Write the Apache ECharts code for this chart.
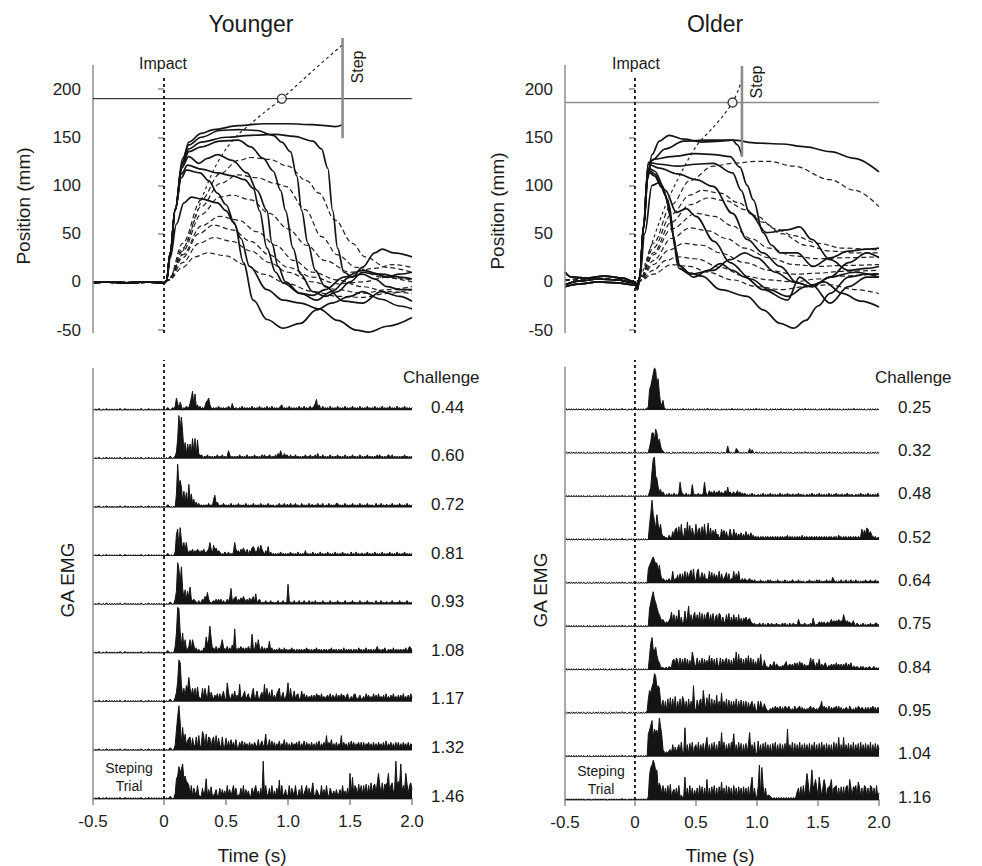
<!DOCTYPE html>
<html><head><meta charset="utf-8">
<script src="https://cdn.jsdelivr.net/npm/echarts@6/dist/echarts.min.js"></script>
<style>html,body{margin:0;padding:0;background:#fff}#c{width:982px;height:866px}</style>
</head><body><div id="c"></div>
<script>
// ---------- axes / labels ----------
const X_MIN = -0.573, X_MAX = 2.0;
const xTickValues = [X_MIN, 0, 0.5, 1.0, 1.5, 2.0];
const xTickLabels = ['-0.5', '0', '0.5', '1.0', '1.5', '2.0'];
const posTickValues = [-50, 0, 50, 100, 150, 200];
const youngerChallenge = ['0.44','0.60','0.72','0.81','0.93','1.08','1.17','1.32','1.46'];
const olderChallenge = ['0.25','0.32','0.48','0.52','0.64','0.75','0.84','0.95','1.04','1.16'];

// ---------- position traces (t [s], mm) ----------
const preYS = [[-0.573,-1],[-0.45,0],[-0.3,-1],[-0.15,0],[0,-1],[0.02,1]];
const posYS1 = [[0.05,30],[0.09,75],[0.15,125],[0.2,145],[0.3,154],[0.4,158],[0.6,162],[0.8,164],[1.0,164],[1.2,163],[1.3,162],[1.38,161],[1.44,163]];
const posYS2 = [[0.05,30],[0.09,76],[0.15,128],[0.2,142],[0.3,150],[0.45,157],[0.6,158],[0.75,157],[0.88,152],[0.95,145],[1.02,135],[1.07,110],[1.11,74],[1.16,40],[1.22,12],[1.3,-5],[1.45,-20],[1.6,-22],[1.75,-10],[1.9,-15],[2.0,-20]];
const posYS3 = [[0.05,30],[0.09,74],[0.15,124],[0.2,138],[0.3,145],[0.5,150],[0.7,152],[0.9,153],[1.05,151],[1.2,146],[1.27,138],[1.32,118],[1.36,74],[1.4,35],[1.45,10],[1.52,5],[1.6,15],[1.7,30],[1.76,34],[1.85,30],[2.0,26]];
const posYS4 = [[0.05,30],[0.09,75],[0.15,122],[0.2,135],[0.3,140],[0.45,146],[0.6,147],[0.7,140],[0.8,128],[0.88,115],[0.94,95],[0.98,74],[1.04,35],[1.1,8],[1.2,-10],[1.3,-15],[1.4,-10],[1.5,0],[1.6,10],[1.7,8],[1.8,5],[1.9,8],[2.0,10]];
const posYS5 = [[0.05,30],[0.09,74],[0.14,118],[0.2,130],[0.28,123],[0.35,128],[0.43,132],[0.55,126],[0.67,113],[0.75,95],[0.83,74],[0.87,40],[0.92,16],[0.98,0],[1.1,-12],[1.23,-19],[1.35,-10],[1.5,5],[1.6,8],[1.7,3],[1.8,-5],[1.9,-8],[2.0,-8]];
const posYS6 = [[0.05,30],[0.09,75],[0.14,112],[0.19,121],[0.3,117],[0.43,113],[0.55,110],[0.65,106],[0.72,97],[0.77,74],[0.83,35],[0.9,10],[0.96,-1],[1.1,-12],[1.2,-14],[1.3,-8],[1.45,5],[1.6,12],[1.75,8],[1.9,5],[2.0,3]];
const posYS7 = [[0.05,30],[0.09,75],[0.14,108],[0.18,116],[0.29,113],[0.36,105],[0.43,92],[0.5,80],[0.57,60],[0.64,20],[0.72,-19],[0.83,-39],[0.96,-48],[1.1,-43],[1.23,-29],[1.35,-22],[1.5,-15],[1.6,-10],[1.75,-18],[1.9,-25],[2.0,-28]];
const posYS8 = [[0.05,25],[0.1,60],[0.16,82],[0.22,88],[0.3,86],[0.43,82],[0.5,74],[0.56,62],[0.62,45],[0.69,16],[0.83,-8],[0.96,-19],[1.1,-22],[1.25,-28],[1.4,-40],[1.55,-50],[1.65,-52],[1.8,-46],[2.0,-37]];

const preYD = [[-0.573,0],[-0.3,-1],[0,0],[0.04,2]];
const posYD1 = [[0.15,40],[0.3,85],[0.45,112],[0.6,126],[0.7,129],[0.85,127],[1.0,120],[1.15,105],[1.25,92],[1.38,64],[1.52,40],[1.62,26],[1.8,15],[2.0,10]];
const posYD2 = [[0.15,35],[0.3,78],[0.45,102],[0.6,111],[0.75,108],[0.9,102],[0.98,99],[1.14,75],[1.27,47],[1.4,28],[1.55,15],[1.75,5],[2.0,0]];
const posYD3 = [[0.15,32],[0.3,70],[0.45,88],[0.55,90],[0.7,85],[0.85,71],[1.0,55],[1.15,38],[1.3,22],[1.5,10],[1.7,14],[1.85,18],[2.0,15]];
const posYD4 = [[0.15,28],[0.3,58],[0.45,68],[0.6,64],[0.75,52],[0.9,38],[1.05,22],[1.2,10],[1.4,2],[1.6,-5],[1.8,-10],[2.0,-12]];
const posYD5 = [[0.15,25],[0.28,50],[0.4,59],[0.55,54],[0.7,42],[0.85,28],[1.0,15],[1.2,5],[1.4,-2],[1.6,0],[1.8,5],[2.0,2]];
const posYD6 = [[0.15,20],[0.28,40],[0.4,46],[0.55,42],[0.7,32],[0.85,20],[1.0,10],[1.2,0],[1.4,-8],[1.6,-12],[1.8,-8],[2.0,-5]];
const posYD7 = [[0.15,15],[0.25,26],[0.35,30],[0.5,27],[0.65,18],[0.8,8],[1.0,-2],[1.2,-10],[1.4,-15],[1.6,-16],[1.8,-12],[2.0,-8]];
const posYDot = [[0.05,4],[0.18,40],[0.31,88],[0.4,116],[0.5,138],[0.6,153],[0.7,164],[0.8,175],[0.95,190],[1.2,219],[1.44,246]];

const preOA = [[-0.573,10],[-0.52,5],[-0.4,4],[-0.25,6],[-0.1,4],[0,0],[0.02,-4]];
const preOB = [[-0.573,-3],[-0.45,1],[-0.3,3],[-0.15,2],[0,-1],[0.02,-6]];
const preOC = [[-0.573,-5],[-0.45,-2],[-0.3,0],[-0.15,-1],[0,-3],[0.02,-8]];
const posOS1 = [[0.04,5],[0.07,55],[0.1,105],[0.14,132],[0.2,146],[0.28,152],[0.4,148],[0.55,145],[0.7,146],[0.8,147],[0.84,142],[0.877,130]];
const posOS2 = [[0.04,5],[0.07,55],[0.1,108],[0.14,126],[0.25,138],[0.4,146],[0.6,147],[0.8,147],[1.0,144],[1.2,143],[1.4,140],[1.6,135],[1.8,128],[2.0,114]];
const posOS3 = [[0.04,5],[0.07,58],[0.11,122],[0.15,127],[0.3,130],[0.5,133],[0.65,132],[0.78,130],[0.86,119],[0.92,100],[0.97,85],[1.05,51],[1.12,38],[1.19,30],[1.33,30],[1.46,16],[1.6,25],[1.75,32],[1.9,34],[2.0,35]];
const posOS4 = [[0.04,5],[0.07,58],[0.11,124],[0.2,122],[0.35,120],[0.5,122],[0.64,123],[0.8,113],[0.87,95],[0.94,71],[1.08,51],[1.25,54],[1.35,57],[1.45,44],[1.6,23],[1.75,12],[1.9,14],[2.0,16]];
const posOS5 = [[0.04,5],[0.07,57],[0.11,122],[0.2,118],[0.35,112],[0.5,106],[0.64,99],[0.8,71],[0.92,44],[1.05,30],[1.19,16],[1.33,-1],[1.45,-5],[1.6,5],[1.75,20],[1.9,30],[2.0,25]];
const posOS6 = [[0.04,5],[0.07,56],[0.11,118],[0.16,115],[0.25,95],[0.34,72],[0.42,76],[0.5,68],[0.65,42],[0.78,20],[0.95,3],[1.1,-8],[1.25,-15],[1.4,-5],[1.55,0],[1.7,-12],[1.85,-20],[2.0,-26]];
const posOS7 = [[0.04,5],[0.07,56],[0.11,116],[0.16,112],[0.22,100],[0.27,85],[0.31,50],[0.35,18],[0.45,9],[0.55,6],[0.7,-8],[0.92,-15],[1.05,-29],[1.19,-43],[1.3,-48],[1.4,-40],[1.5,-25],[1.6,-12],[1.75,5],[1.9,8],[2.0,8]];
const posOS8 = [[0.04,5],[0.07,55],[0.11,114],[0.16,110],[0.22,98],[0.28,80],[0.32,45],[0.36,14],[0.45,8],[0.64,12],[0.78,23],[0.9,30],[1.0,25],[1.15,10],[1.3,0],[1.45,-5],[1.6,5],[1.8,10],[2.0,5]];
const posOS9 = [[0.04,4],[0.08,50],[0.14,100],[0.2,103],[0.25,90],[0.29,68],[0.33,35],[0.37,16],[0.48,5],[0.6,12],[0.7,19],[0.8,12],[0.9,5],[1.05,-8],[1.25,-19],[1.35,5],[1.45,-3],[1.6,-22],[1.75,-5],[1.9,5],[2.0,5]];

const preOD = [[-0.573,2],[-0.3,3],[0,1],[0.04,1]];
const posOD1 = [[0.15,40],[0.3,80],[0.45,105],[0.64,120],[0.8,123],[1.0,125],[1.1,125],[1.3,120],[1.6,106],[1.8,95],[2.0,78]];
const posOD2 = [[0.15,35],[0.3,70],[0.45,90],[0.55,95],[0.7,92],[0.85,82],[1.0,68],[1.15,55],[1.3,48],[1.5,40],[1.7,35],[2.0,33]];
const posOD3 = [[0.15,30],[0.3,62],[0.45,80],[0.6,87],[0.75,84],[0.9,75],[1.05,62],[1.2,50],[1.4,38],[1.6,32],[1.8,30],[2.0,30]];
const posOD4 = [[0.15,28],[0.3,55],[0.5,71],[0.65,68],[0.8,58],[0.95,45],[1.1,35],[1.3,27],[1.5,24],[1.7,25],[2.0,26]];
const posOD5 = [[0.15,22],[0.3,45],[0.45,56],[0.6,53],[0.75,45],[0.9,35],[1.1,25],[1.3,18],[1.5,16],[1.7,17],[2.0,18]];
const posOD6 = [[0.15,18],[0.28,33],[0.4,40],[0.55,38],[0.7,30],[0.9,20],[1.1,12],[1.3,8],[1.5,9],[1.7,11],[2.0,12]];
const posOD7 = [[0.15,12],[0.25,22],[0.35,26],[0.5,24],[0.7,15],[0.9,6],[1.1,2],[1.3,0],[1.5,3],[1.7,6],[2.0,9]];
const posOD8 = [[0.15,8],[0.3,18],[0.45,16],[0.6,10],[0.8,2],[1.0,-5],[1.2,-8],[1.4,-5],[1.6,-3],[1.8,-8],[2.0,-12]];
const posODot = [[0.05,5],[0.15,44],[0.26,82],[0.39,116],[0.51,142],[0.64,160],[0.72,172],[0.8,186],[0.85,200],[0.88,212]];

// reference marks (t, mm)
const youngerTarget = 190, olderTarget = 186;
const youngerStep = [[1.44,149],[1.44,253]], olderStep = [[0.877,130],[0.877,224]];
const youngerCircle = [0.95,190], olderCircle = [0.80,186];

// ---------- EMG (one char per 0.01 s, base-36 amplitude, 36 = one trace spacing) ----------
const emgPreY = "1010110 0101101010 1010110011 0101010101 0110010110 1010101010";
const emgPreO = "0101010 1010101010 0101001010 1010101001 0101010101 1010010101";
const emgY044 = "1012101213 9516302132 259e4c2413 1213679421 2121312121 2132152121 1213121212 1312121312 1213121312 1212341212 1312121213 1213121231 2358142131 2121312121 3121213121 2131212131 2121312121 3121213121 2131212131 2121312121 2";
const emgY060 = "1010121012 5fwmvk6c3b 6b4f5f3e42 3212131212 1213121312 1263121212 1312121312 1213121213 1312132121 3142631423 2131213121 2121312131 2131412131 2121312121 3121213121 2131212131 2121312121 2131312121 2321312121 2121312121 2";
const emgY072 = "1012101010 awhkf5c4b3 h5a3624131 2121213121 6934212131 2121312121 3121213121 2131212131 2121312121 1213121312 2131213121 1312121312 2121312131 1213121213 3121213121 2131212131 2121312121 1312131212 2121312121 3121213121 2";
const emgY081 = "1012101013 gk6lc5a4a3 3435243542 4353245a52 8463431213 2131213a53 4253642514 3675247385 3142713121 2121312121 2131212131 2121412121 3121213121 2131212131 2121312121 1312131212 2121312121 3121213121 2131212131 2121312121 2";
const emgY093 = "1010121014 avqgsc5b4a 5d43432131 2436494212 3242424131 2425c34562 4353642425 3462813421 2131213121 2131213121 f312131213 1213121312 2131212131 2121312121 3121213121 2131212131 2121312121 1312131212 2121312121 3121213121 2";
const emgY108 = "1012101015 fyxg5f4a33 5a3a624131 2143c6akb3 4252436a43 3524263i42 4353424253 3e4283a425 2424392413 2314231423 1324231313 2313242313 1324132313 2313241323 1323141323 2313231423 1324132313 2352313242 1323141323 2313241354 2";
const emgY117 = "1010121013 7fvtd5a4c9 ia5a4a3b43 2a3a52c274 2536262582 2e72363825 2d33582462 26a2483257 2d3a372925 268a247236 e2a3482562 2836252435 2526452624 2452625426 2526452462 2425632352 2426352426 2526242526 2425262425 2526242526 3";
const emgY132 = "1010121014 fpxl5h6c47 9a2943a2b3 3eb2c3a928 a2b3942a23 9272836282 2637263526 2526428257 25c3482736 2537254826 2526354627 2537263526 2526372536 2b36382526 253b263526 2736254626 2625462526 2526352627 2536252626 2526352625 4";
const emgY146 = "1010121014 fhokmqfhdc a3a2853a32 2836f27392 3472382736 2a3726a382 3382a27362 2847a36282 s3a3382a26 283e2a3372 3a2853a327 2a347a2836 c327532a27 2a32853627 3472a36282 j4g3a83b4a 3a4b3a4c4a b4cja4c4ba cj5ac48sad bq5a6jb4ac 7";

const emgO025 = "0101010101 13hkpuzxmq e648210101 0101010101 1010101010 0101010101 1010101010 0101010101 1010101010 0101010101 1010101010 0101010101 1010101010 0101010101 1010101010 0101010101 1010101010 0101010101 1010101010 0101010101 0";
const emgO032 = "0101010101 015ahhbkh9 c632101010 0101010101 1010101010 0101010101 1010101010 0101016201 0104310101 0101403101 1010101010 0101010101 1010101010 0101010101 1010101010 0101010101 1010101010 0101010101 1010101010 0101010101 0";
const emgO048 = "0101010101 0148lvxhf8 4624212131 2131213c52 2131212a31 2131213c41 2534252435 2423528342 3423524232 3121213121 1212131212 1312121213 1212131212 2121312121 1212131212 1312121213 1212131212 2121312121 1212131212 1312121213 1";
const emgO052 = "0101010101 01dmxlg9ld 8d53322142 2739a4b2d3 3a2f4c2a53 d39a2b4d35 e3a2849352 2948372394 2936253625 2735263423 2313231323 1323132313 2313241323 1313231413 2313231323 1323132313 2313231423 1323132313 2313239485 a957432312 2";
const emgO064 = "0101010101 0cfhkmjgha f834323242 3a24372828 3a2948b3c2 3ac2593824 2a3928472a 2834692824 3a284a3242 4323423132 1213121213 1312121312 1213121213 2121312121 1213121213 1312121312 2153121213 1213121312 1312121213 1213121312 1";
const emgO075 = "0101010101 01fkptnkgc a756434357 c3a294e382 4d29h3a39c 3a4c2b3a4b c3a4b28a3b a2843a4b28 3a382a2737 6856743231 2132131213 2131213121 2313121312 3121631213 2121317312 2434242342 4635454645 4a63534235 2132121312 1213121331 2";
const emgO084 = "0101010101 01cmrhgjc8 6322122132 3894a82a39 4a39382fa3 4a383a3948 3c4a392a43 a3948a3928 3a4f3d4a39 3a4c3a2937 2a3d428432 2534725423 2435724525 2636274625 2435a49526 3925346324 2535263525 2536253623 3232132312 2132123121 2";
const emgO095 = "0101010101 2cjhmpxvln la4b3a2c3d 4c3e2a4c2e b3a2c3a3n4 3b4ac2ja3d 4g2c3b4f3a 4h3a4c2b3a 4a3c2a4b3a 3a2948a382 2a3a628532 2435264526 2526536424 2634562534 2435625434 256a264526 2535463625 2435426424 2526535425 2525463525 4";
const emgO104 = "0101010101 0jmqugnkmh wpi6434356 3a2847a3c3 3o3a2b4c28 a3c3a4b3ag 3a3b4c3a2d 4k3c3a4b3c aj3a3c4b2a 3b3ak4a3c2 3d3a2b4c3a 3a2b4c3a2b 3a3b2n3a3c 2b3a4c2a3b 3a3b2a4c3a 2b3c4a2b3a 3a2c4b3g2a 3g2a4b3a2c 3a3b2c3a4b 3a3c2a3b4a 6";
const emgO116 = "0101010101 03lrtxuopa eb5c4a3c3d 2793a3c242 3j3a2c3a28 3a2c4b2a3h 2a3b4c2a2b 4f3a2c2b4a 2c3a2b4a2b 3a2b2cj3a2 3bt3rc3a24 4321212121 2121212121 2137a3b2c3 cme3apbcha 3jb3ahc2ab ch3abc3a2b 3b2bc3ha3b ac3fb3a2cb 3a2cb3a2c2 6";

const emgYounger = [emgY044, emgY060, emgY072, emgY081, emgY093, emgY108, emgY117, emgY132, emgY146];
const emgOlder = [emgO025, emgO032, emgO048, emgO052, emgO064, emgO075, emgO084, emgO095, emgO104, emgO116];

// ---------- build ----------
const FONT = '"Liberation Sans", Arial, Helvetica, sans-serif';
const GRAY = '#8c8c8c', INK = '#141414';
const chart = echarts.init(document.getElementById('c'), null, {renderer: 'svg', width: 982, height: 866});

const grids = [
  {left: 93, top: 36, width: 319, height: 297},
  {left: 565, top: 36, width: 314, height: 297},
  {left: 93, top: 360, width: 319, height: 439},
  {left: 565, top: 360, width: 314, height: 440}
];
const emgMaxY = [9.033, 10.154];

const xAxes = grids.map((g, i) => ({
  type: 'value', gridIndex: i, min: X_MIN, max: X_MAX, show: i >= 2,
  axisLine: {lineStyle: {color: GRAY, width: 1.5}},
  axisTick: {customValues: xTickValues, length: 6, lineStyle: {color: GRAY, width: 1.5}},
  axisLabel: {customValues: xTickValues, fontSize: 17, color: '#1e1e1e', margin: 14, fontFamily: FONT,
    formatter: v => { const k = xTickValues.findIndex(q => Math.abs(q - v) < 1e-6); return k >= 0 ? xTickLabels[k] : ''; }},
  splitLine: {show: false}
}));
const yAxes = grids.map((g, i) => i < 2 ? ({
  type: 'value', gridIndex: i, min: -53, max: 255,
  axisLine: {show: false},
  axisTick: {show: true, customValues: posTickValues, length: 6, lineStyle: {color: GRAY, width: 1.5}},
  axisLabel: {customValues: posTickValues, fontSize: 17, color: '#1e1e1e', margin: 12, fontFamily: FONT},
  splitLine: {show: false}
}) : ({
  type: 'value', gridIndex: i, min: 0, max: emgMaxY[i - 2], show: false, splitLine: {show: false}
}));

const series = [];
function curve(data, gi, dashed) {
  series.push({type: 'line', xAxisIndex: gi, yAxisIndex: gi, data, smooth: 0.35, smoothMonotone: 'x',
    showSymbol: false, symbol: 'none', silent: true, animation: false, z: dashed ? 2 : 3,
    lineStyle: dashed ? {color: '#222', width: 1.2, type: [5, 3]} : {color: INK, width: 1.7}});
}
function seg(data, gi, color, width, type, z) {
  series.push({type: 'line', xAxisIndex: gi, yAxisIndex: gi, data, showSymbol: false, symbol: 'none',
    silent: true, animation: false, clip: false, z: z || 4, lineStyle: {color, width, type: type || 'solid'}});
}
function decode(s) { return s.replace(/\s+/g, '').split('').map(c => parseInt(c, 36)); }
function emg(post, pre, offset, gi) {
  const data = [];
  decode(pre).forEach((v, j) => data.push([+(-0.57 + j * 0.01).toFixed(2), offset + v / 36]));
  decode(post).forEach((v, k) => { const t = k * 0.01; if (t <= X_MAX + 1e-6) data.push([+t.toFixed(2), offset + v / 36]); });
  series.push({type: 'line', xAxisIndex: gi, yAxisIndex: gi, data, showSymbol: false, symbol: 'none',
    silent: true, animation: false, z: 3, lineStyle: {color: INK, width: 1},
    areaStyle: {origin: offset, color: INK, opacity: 1}});
}

// Younger position
[posYD1, posYD2, posYD3, posYD4, posYD5, posYD6, posYD7].forEach(d => curve(preYD.concat(d), 0, true));
[posYS1, posYS2, posYS3, posYS4, posYS5, posYS6, posYS7, posYS8].forEach(d => curve(preYS.concat(d), 0, false));
series.push({type: 'line', xAxisIndex: 0, yAxisIndex: 0, data: posYDot, smooth: 0.3, showSymbol: false, symbol: 'none',
  silent: true, animation: false, z: 3, lineStyle: {color: '#222', width: 1.2, type: [3, 3]}});
// Older position
[posOD1, posOD2, posOD3, posOD4, posOD5, posOD6, posOD7, posOD8].forEach(d => curve(preOD.concat(d), 1, true));
[[posOS1, preOA], [posOS2, preOB], [posOS3, preOC], [posOS4, preOA], [posOS5, preOB], [posOS6, preOC], [posOS7, preOA], [posOS8, preOB], [posOS9, preOC]]
  .forEach(p => curve(p[1].concat(p[0]), 1, false));
series.push({type: 'line', xAxisIndex: 1, yAxisIndex: 1, data: posODot, smooth: 0.3, showSymbol: false, symbol: 'none',
  silent: true, animation: false, z: 3, lineStyle: {color: '#222', width: 1.2, type: [3, 3]}});

// reference lines
seg([[X_MIN, -53], [X_MIN, 225]], 0, GRAY, 1.5);
seg([[X_MIN, -53], [X_MIN, 225]], 1, GRAY, 1.5);
seg([[X_MIN, youngerTarget], [X_MAX, youngerTarget]], 0, '#111', 1);
seg([[X_MIN, olderTarget], [X_MAX, olderTarget]], 1, GRAY, 1.6);
seg(youngerStep, 0, GRAY, 2.6);
seg(olderStep, 1, GRAY, 2.6);
seg([[0, -53], [0, 214]], 0, '#111', 1.8, [3, 3]);
seg([[0, -53], [0, 213]], 1, '#111', 1.8, [3, 3]);
series.push({type: 'scatter', xAxisIndex: 0, yAxisIndex: 0, data: [youngerCircle], symbol: 'circle', symbolSize: 9, z: 6,
  silent: true, animation: false, itemStyle: {color: '#fff', borderColor: '#111', borderWidth: 1.4}});
series.push({type: 'scatter', xAxisIndex: 1, yAxisIndex: 1, data: [olderCircle], symbol: 'circle', symbolSize: 9, z: 6,
  silent: true, animation: false, itemStyle: {color: '#fff', borderColor: '#111', borderWidth: 1.4}});

// EMG stacks
emgYounger.forEach((s, i) => emg(s, emgPreY, emgYounger.length - 1 - i, 2));
emgOlder.forEach((s, i) => emg(s, emgPreO, emgOlder.length - 1 - i, 3));
seg([[X_MIN, 0], [X_MIN, 8.87]], 2, GRAY, 1.5);
seg([[X_MIN, 0], [X_MIN, 10]], 3, GRAY, 1.5);
seg([[0, 0], [0, emgMaxY[0]]], 2, '#111', 1.8, [3, 3], 5);
seg([[0, 0], [0, emgMaxY[1]]], 3, '#111', 1.8, [3, 3], 5);

chart.setOption({animation: false, backgroundColor: '#fff', grid: grids, xAxis: xAxes, yAxis: yAxes, series});

// ---------- text ----------
function txt(text, x, y, size, rot, align) {
  return {type: 'text', x, y, rotation: rot || 0, silent: true,
    style: {text, font: size + 'px ' + FONT, fill: '#1a1a1a', align: align || 'center', verticalAlign: 'middle'}};
}
const R = Math.PI / 2;
const g = [
  txt('Younger', 251, 24, 23), txt('Older', 715, 24, 23),
  txt('Impact', 163, 63, 16), txt('Impact', 636, 63, 16),
  txt('Step', 357, 67, 16, R), txt('Step', 756, 82, 16, R),
  txt('Position (mm)', 23, 206, 19, R), txt('Position (mm)', 497, 211, 19, R),
  txt('GA EMG', 67, 580, 19, R), txt('GA EMG', 540, 590, 19, R),
  txt('Time (s)', 252, 855, 19), txt('Time (s)', 720, 855, 19),
  txt('Steping', 129, 768, 14), txt('Trial', 129, 786, 14),
  txt('Steping', 601, 771, 14), txt('Trial', 601, 789, 14),
  txt('Challenge', 403, 377, 17, 0, 'left'), txt('Challenge', 875, 377, 17, 0, 'left')
];
youngerChallenge.forEach((lab, i) => {
  const p = chart.convertToPixel({gridIndex: 2}, [X_MAX, youngerChallenge.length - 1 - i]);
  g.push(txt(lab, p[0] + 19, p[1] - 3, 17, 0, 'left'));
});
olderChallenge.forEach((lab, i) => {
  const p = chart.convertToPixel({gridIndex: 3}, [X_MAX, olderChallenge.length - 1 - i]);
  g.push(txt(lab, p[0] + 19, p[1] - 3, 17, 0, 'left'));
});
chart.setOption({graphic: g});
</script></body></html>
